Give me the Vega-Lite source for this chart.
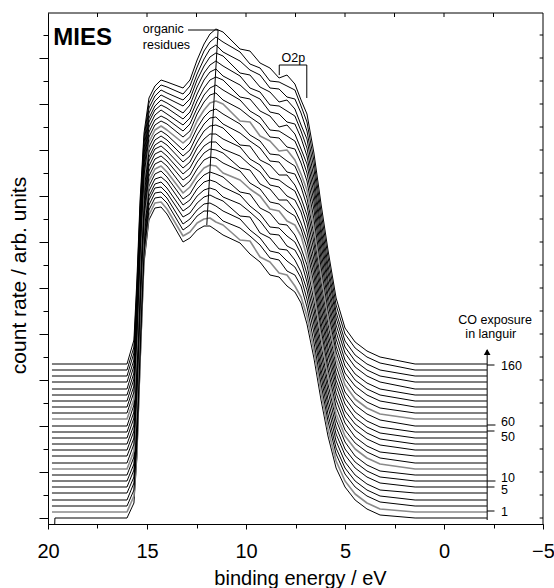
{
"$schema": "https://vega.github.io/schema/vega-lite/v6.json",
"width": 495, "height": 511,
"autosize": {"type": "none"},
"padding": {"left": 48, "top": 13, "right": 11, "bottom": 64},
"background": "white",
"config": {"view": {"stroke": null}, "font": "Liberation Sans",
 "axis": {"grid": false, "domainColor": "black", "tickColor": "black", "labelColor": "black", "titleColor": "black", "labelFont": "Liberation Sans", "titleFont": "Liberation Sans", "titleFontWeight": "normal", "domainWidth": 1, "tickWidth": 1, "labelFlush": false, "labelOverlap": false}},
"resolve": {"axis": {"x": "independent", "y": "independent"}},
"layer": [
{
"data": {"values": [
{"c":0,"e":19.66,"v":-6},{"c":0,"e":19.65,"v":0},{"c":0,"e":16.01,"v":0},{"c":0,"e":15.66,"v":15},{"c":0,"e":15.51,"v":60},{"c":0,"e":15.35,"v":150},{"c":0,"e":15.15,"v":255},{"c":0,"e":14.9,"v":298},{"c":0,"e":14.6,"v":310},{"c":0,"e":14.29,"v":311},{"c":0,"e":13.99,"v":304},{"c":0,"e":13.18,"v":276},{"c":0,"e":12.83,"v":280},{"c":0,"e":12.47,"v":288},{"c":0,"e":12.12,"v":292},{"c":0,"e":11.82,"v":292},{"c":0,"e":11.52,"v":288},{"c":0,"e":11.16,"v":283},{"c":0,"e":10.3,"v":275},{"c":0,"e":9.8,"v":264},{"c":0,"e":9.29,"v":256},{"c":0,"e":8.79,"v":243},{"c":0,"e":8.33,"v":241},{"c":0,"e":7.93,"v":232},{"c":0,"e":7.53,"v":226},{"c":0,"e":7.22,"v":215},{"c":0,"e":6.92,"v":194},{"c":0,"e":6.57,"v":160},{"c":0,"e":6.21,"v":118},{"c":0,"e":5.86,"v":82},{"c":0,"e":5.45,"v":50},{"c":0,"e":5,"v":31},{"c":0,"e":4.49,"v":18},{"c":0,"e":3.89,"v":9},{"c":0,"e":3.23,"v":3},{"c":0,"e":1.46,"v":0},{"c":0,"e":-2.17,"v":0},
{"c":1,"e":19.8,"v":6},{"c":1,"e":16.01,"v":6},{"c":1,"e":15.66,"v":22},{"c":1,"e":15.51,"v":67},{"c":1,"e":15.35,"v":157},{"c":1,"e":15.15,"v":260},{"c":1,"e":14.9,"v":303},{"c":1,"e":14.6,"v":315},{"c":1,"e":14.29,"v":316},{"c":1,"e":13.99,"v":309},{"c":1,"e":13.18,"v":282},{"c":1,"e":12.83,"v":286},{"c":1,"e":12.47,"v":295},{"c":1,"e":12.12,"v":299},{"c":1,"e":11.82,"v":300},{"c":1,"e":11.52,"v":296},{"c":1,"e":11.16,"v":293},{"c":1,"e":10.3,"v":278},{"c":1,"e":9.8,"v":277},{"c":1,"e":9.29,"v":261},{"c":1,"e":8.79,"v":256},{"c":1,"e":8.33,"v":245},{"c":1,"e":7.93,"v":243},{"c":1,"e":7.53,"v":232},{"c":1,"e":7.22,"v":221},{"c":1,"e":6.92,"v":202},{"c":1,"e":6.57,"v":168},{"c":1,"e":6.21,"v":126},{"c":1,"e":5.86,"v":89},{"c":1,"e":5.45,"v":57},{"c":1,"e":5,"v":37},{"c":1,"e":4.49,"v":24},{"c":1,"e":3.89,"v":15},{"c":1,"e":3.23,"v":9},{"c":1,"e":1.46,"v":6},{"c":1,"e":-2.17,"v":6},
{"c":2,"e":19.8,"v":12},{"c":2,"e":16.01,"v":12},{"c":2,"e":15.66,"v":28},{"c":2,"e":15.51,"v":74},{"c":2,"e":15.35,"v":163},{"c":2,"e":15.15,"v":265},{"c":2,"e":14.9,"v":308},{"c":2,"e":14.6,"v":320},{"c":2,"e":14.29,"v":321},{"c":2,"e":13.99,"v":315},{"c":2,"e":13.18,"v":288},{"c":2,"e":12.83,"v":293},{"c":2,"e":12.47,"v":302},{"c":2,"e":12.12,"v":307},{"c":2,"e":11.82,"v":307},{"c":2,"e":11.52,"v":304},{"c":2,"e":11.16,"v":297},{"c":2,"e":10.3,"v":290},{"c":2,"e":9.8,"v":282},{"c":2,"e":9.29,"v":273},{"c":2,"e":8.79,"v":260},{"c":2,"e":8.33,"v":258},{"c":2,"e":7.93,"v":247},{"c":2,"e":7.53,"v":243},{"c":2,"e":7.22,"v":232},{"c":2,"e":6.92,"v":211},{"c":2,"e":6.57,"v":176},{"c":2,"e":6.21,"v":134},{"c":2,"e":5.86,"v":97},{"c":2,"e":5.45,"v":64},{"c":2,"e":5,"v":44},{"c":2,"e":4.49,"v":31},{"c":2,"e":3.89,"v":22},{"c":2,"e":3.23,"v":16},{"c":2,"e":1.46,"v":12},{"c":2,"e":-2.17,"v":12},
{"c":3,"e":19.8,"v":18},{"c":3,"e":16.01,"v":18},{"c":3,"e":15.66,"v":35},{"c":3,"e":15.51,"v":81},{"c":3,"e":15.35,"v":170},{"c":3,"e":15.15,"v":271},{"c":3,"e":14.9,"v":313},{"c":3,"e":14.6,"v":325},{"c":3,"e":14.29,"v":326},{"c":3,"e":13.99,"v":320},{"c":3,"e":13.18,"v":294},{"c":3,"e":12.83,"v":299},{"c":3,"e":12.47,"v":308},{"c":3,"e":12.12,"v":314},{"c":3,"e":11.82,"v":315},{"c":3,"e":11.52,"v":312},{"c":3,"e":11.16,"v":307},{"c":3,"e":10.3,"v":299},{"c":3,"e":9.8,"v":288},{"c":3,"e":9.29,"v":280},{"c":3,"e":8.79,"v":267},{"c":3,"e":8.33,"v":265},{"c":3,"e":7.93,"v":257},{"c":3,"e":7.53,"v":251},{"c":3,"e":7.22,"v":240},{"c":3,"e":6.92,"v":219},{"c":3,"e":6.57,"v":185},{"c":3,"e":6.21,"v":142},{"c":3,"e":5.86,"v":104},{"c":3,"e":5.45,"v":70},{"c":3,"e":5,"v":50},{"c":3,"e":4.49,"v":37},{"c":3,"e":3.89,"v":28},{"c":3,"e":3.23,"v":22},{"c":3,"e":1.46,"v":18},{"c":3,"e":-2.17,"v":18},
{"c":4,"e":19.8,"v":25},{"c":4,"e":16.01,"v":25},{"c":4,"e":15.66,"v":41},{"c":4,"e":15.51,"v":88},{"c":4,"e":15.35,"v":177},{"c":4,"e":15.15,"v":276},{"c":4,"e":14.9,"v":318},{"c":4,"e":14.6,"v":330},{"c":4,"e":14.29,"v":331},{"c":4,"e":13.99,"v":325},{"c":4,"e":13.18,"v":301},{"c":4,"e":12.83,"v":305},{"c":4,"e":12.47,"v":315},{"c":4,"e":12.12,"v":321},{"c":4,"e":11.82,"v":323},{"c":4,"e":11.52,"v":320},{"c":4,"e":11.16,"v":317},{"c":4,"e":10.3,"v":302},{"c":4,"e":9.8,"v":301},{"c":4,"e":9.29,"v":285},{"c":4,"e":8.79,"v":280},{"c":4,"e":8.33,"v":269},{"c":4,"e":7.93,"v":268},{"c":4,"e":7.53,"v":258},{"c":4,"e":7.22,"v":246},{"c":4,"e":6.92,"v":228},{"c":4,"e":6.57,"v":193},{"c":4,"e":6.21,"v":149},{"c":4,"e":5.86,"v":112},{"c":4,"e":5.45,"v":77},{"c":4,"e":5,"v":56},{"c":4,"e":4.49,"v":43},{"c":4,"e":3.89,"v":34},{"c":4,"e":3.23,"v":28},{"c":4,"e":1.46,"v":25},{"c":4,"e":-2.17,"v":25},
{"c":5,"e":19.8,"v":31},{"c":5,"e":16.01,"v":31},{"c":5,"e":15.66,"v":48},{"c":5,"e":15.51,"v":96},{"c":5,"e":15.35,"v":184},{"c":5,"e":15.15,"v":281},{"c":5,"e":14.9,"v":322},{"c":5,"e":14.6,"v":334},{"c":5,"e":14.29,"v":336},{"c":5,"e":13.99,"v":330},{"c":5,"e":13.18,"v":307},{"c":5,"e":12.83,"v":312},{"c":5,"e":12.47,"v":322},{"c":5,"e":12.12,"v":328},{"c":5,"e":11.82,"v":330},{"c":5,"e":11.52,"v":328},{"c":5,"e":11.16,"v":321},{"c":5,"e":10.3,"v":314},{"c":5,"e":9.8,"v":306},{"c":5,"e":9.29,"v":297},{"c":5,"e":8.79,"v":284},{"c":5,"e":8.33,"v":283},{"c":5,"e":7.93,"v":272},{"c":5,"e":7.53,"v":268},{"c":5,"e":7.22,"v":257},{"c":5,"e":6.92,"v":236},{"c":5,"e":6.57,"v":201},{"c":5,"e":6.21,"v":157},{"c":5,"e":5.86,"v":119},{"c":5,"e":5.45,"v":84},{"c":5,"e":5,"v":63},{"c":5,"e":4.49,"v":50},{"c":5,"e":3.89,"v":41},{"c":5,"e":3.23,"v":35},{"c":5,"e":1.46,"v":31},{"c":5,"e":-2.17,"v":31},
{"c":10,"e":19.8,"v":37},{"c":10,"e":16.01,"v":37},{"c":10,"e":15.66,"v":54},{"c":10,"e":15.51,"v":103},{"c":10,"e":15.35,"v":190},{"c":10,"e":15.15,"v":286},{"c":10,"e":14.9,"v":327},{"c":10,"e":14.6,"v":339},{"c":10,"e":14.29,"v":341},{"c":10,"e":13.99,"v":336},{"c":10,"e":13.18,"v":313},{"c":10,"e":12.83,"v":318},{"c":10,"e":12.47,"v":329},{"c":10,"e":12.12,"v":336},{"c":10,"e":11.82,"v":338},{"c":10,"e":11.52,"v":336},{"c":10,"e":11.16,"v":331},{"c":10,"e":10.3,"v":323},{"c":10,"e":9.8,"v":312},{"c":10,"e":9.29,"v":304},{"c":10,"e":8.79,"v":291},{"c":10,"e":8.33,"v":290},{"c":10,"e":7.93,"v":282},{"c":10,"e":7.53,"v":276},{"c":10,"e":7.22,"v":264},{"c":10,"e":6.92,"v":244},{"c":10,"e":6.57,"v":209},{"c":10,"e":6.21,"v":165},{"c":10,"e":5.86,"v":127},{"c":10,"e":5.45,"v":91},{"c":10,"e":5,"v":69},{"c":10,"e":4.49,"v":56},{"c":10,"e":3.89,"v":47},{"c":10,"e":3.23,"v":41},{"c":10,"e":1.46,"v":37},{"c":10,"e":-2.17,"v":37},
{"c":15,"e":19.8,"v":43},{"c":15,"e":16.01,"v":43},{"c":15,"e":15.66,"v":61},{"c":15,"e":15.51,"v":110},{"c":15,"e":15.35,"v":197},{"c":15,"e":15.15,"v":291},{"c":15,"e":14.9,"v":332},{"c":15,"e":14.6,"v":344},{"c":15,"e":14.29,"v":347},{"c":15,"e":13.99,"v":341},{"c":15,"e":13.18,"v":319},{"c":15,"e":12.83,"v":324},{"c":15,"e":12.47,"v":336},{"c":15,"e":12.12,"v":343},{"c":15,"e":11.82,"v":346},{"c":15,"e":11.52,"v":344},{"c":15,"e":11.16,"v":341},{"c":15,"e":10.3,"v":326},{"c":15,"e":9.8,"v":324},{"c":15,"e":9.29,"v":310},{"c":15,"e":8.79,"v":305},{"c":15,"e":8.33,"v":294},{"c":15,"e":7.93,"v":293},{"c":15,"e":7.53,"v":283},{"c":15,"e":7.22,"v":270},{"c":15,"e":6.92,"v":253},{"c":15,"e":6.57,"v":217},{"c":15,"e":6.21,"v":173},{"c":15,"e":5.86,"v":134},{"c":15,"e":5.45,"v":98},{"c":15,"e":5,"v":76},{"c":15,"e":4.49,"v":62},{"c":15,"e":3.89,"v":53},{"c":15,"e":3.23,"v":47},{"c":15,"e":1.46,"v":43},{"c":15,"e":-2.17,"v":43},
{"c":20,"e":19.8,"v":49},{"c":20,"e":16.01,"v":49},{"c":20,"e":15.66,"v":67},{"c":20,"e":15.51,"v":117},{"c":20,"e":15.35,"v":204},{"c":20,"e":15.15,"v":297},{"c":20,"e":14.9,"v":337},{"c":20,"e":14.6,"v":349},{"c":20,"e":14.29,"v":352},{"c":20,"e":13.99,"v":346},{"c":20,"e":13.18,"v":325},{"c":20,"e":12.83,"v":331},{"c":20,"e":12.47,"v":342},{"c":20,"e":12.12,"v":350},{"c":20,"e":11.82,"v":353},{"c":20,"e":11.52,"v":352},{"c":20,"e":11.16,"v":345},{"c":20,"e":10.3,"v":338},{"c":20,"e":9.8,"v":329},{"c":20,"e":9.29,"v":322},{"c":20,"e":8.79,"v":309},{"c":20,"e":8.33,"v":307},{"c":20,"e":7.93,"v":297},{"c":20,"e":7.53,"v":293},{"c":20,"e":7.22,"v":282},{"c":20,"e":6.92,"v":261},{"c":20,"e":6.57,"v":226},{"c":20,"e":6.21,"v":181},{"c":20,"e":5.86,"v":142},{"c":20,"e":5.45,"v":104},{"c":20,"e":5,"v":82},{"c":20,"e":4.49,"v":69},{"c":20,"e":3.89,"v":60},{"c":20,"e":3.23,"v":54},{"c":20,"e":1.46,"v":49},{"c":20,"e":-2.17,"v":49},
{"c":25,"e":19.8,"v":55},{"c":25,"e":16.01,"v":55},{"c":25,"e":15.66,"v":74},{"c":25,"e":15.51,"v":124},{"c":25,"e":15.35,"v":210},{"c":25,"e":15.15,"v":302},{"c":25,"e":14.9,"v":342},{"c":25,"e":14.6,"v":354},{"c":25,"e":14.29,"v":357},{"c":25,"e":13.99,"v":352},{"c":25,"e":13.18,"v":331},{"c":25,"e":12.83,"v":337},{"c":25,"e":12.47,"v":349},{"c":25,"e":12.12,"v":358},{"c":25,"e":11.82,"v":361},{"c":25,"e":11.52,"v":360},{"c":25,"e":11.16,"v":355},{"c":25,"e":10.3,"v":347},{"c":25,"e":9.8,"v":335},{"c":25,"e":9.29,"v":329},{"c":25,"e":8.79,"v":316},{"c":25,"e":8.33,"v":314},{"c":25,"e":7.93,"v":307},{"c":25,"e":7.53,"v":302},{"c":25,"e":7.22,"v":289},{"c":25,"e":6.92,"v":270},{"c":25,"e":6.57,"v":234},{"c":25,"e":6.21,"v":189},{"c":25,"e":5.86,"v":149},{"c":25,"e":5.45,"v":111},{"c":25,"e":5,"v":88},{"c":25,"e":4.49,"v":75},{"c":25,"e":3.89,"v":66},{"c":25,"e":3.23,"v":60},{"c":25,"e":1.46,"v":55},{"c":25,"e":-2.17,"v":55},
{"c":30,"e":19.8,"v":62},{"c":30,"e":16.01,"v":62},{"c":30,"e":15.66,"v":80},{"c":30,"e":15.51,"v":131},{"c":30,"e":15.35,"v":217},{"c":30,"e":15.15,"v":307},{"c":30,"e":14.9,"v":347},{"c":30,"e":14.6,"v":359},{"c":30,"e":14.29,"v":362},{"c":30,"e":13.99,"v":357},{"c":30,"e":13.18,"v":338},{"c":30,"e":12.83,"v":343},{"c":30,"e":12.47,"v":356},{"c":30,"e":12.12,"v":365},{"c":30,"e":11.82,"v":369},{"c":30,"e":11.52,"v":368},{"c":30,"e":11.16,"v":365},{"c":30,"e":10.3,"v":350},{"c":30,"e":9.8,"v":348},{"c":30,"e":9.29,"v":334},{"c":30,"e":8.79,"v":329},{"c":30,"e":8.33,"v":318},{"c":30,"e":7.93,"v":318},{"c":30,"e":7.53,"v":308},{"c":30,"e":7.22,"v":295},{"c":30,"e":6.92,"v":278},{"c":30,"e":6.57,"v":242},{"c":30,"e":6.21,"v":196},{"c":30,"e":5.86,"v":156},{"c":30,"e":5.45,"v":118},{"c":30,"e":5,"v":95},{"c":30,"e":4.49,"v":81},{"c":30,"e":3.89,"v":72},{"c":30,"e":3.23,"v":66},{"c":30,"e":1.46,"v":62},{"c":30,"e":-2.17,"v":62},
{"c":35,"e":19.8,"v":68},{"c":35,"e":16.01,"v":68},{"c":35,"e":15.66,"v":87},{"c":35,"e":15.51,"v":138},{"c":35,"e":15.35,"v":224},{"c":35,"e":15.15,"v":312},{"c":35,"e":14.9,"v":352},{"c":35,"e":14.6,"v":364},{"c":35,"e":14.29,"v":367},{"c":35,"e":13.99,"v":362},{"c":35,"e":13.18,"v":344},{"c":35,"e":12.83,"v":350},{"c":35,"e":12.47,"v":363},{"c":35,"e":12.12,"v":372},{"c":35,"e":11.82,"v":376},{"c":35,"e":11.52,"v":376},{"c":35,"e":11.16,"v":369},{"c":35,"e":10.3,"v":362},{"c":35,"e":9.8,"v":353},{"c":35,"e":9.29,"v":346},{"c":35,"e":8.79,"v":333},{"c":35,"e":8.33,"v":331},{"c":35,"e":7.93,"v":322},{"c":35,"e":7.53,"v":318},{"c":35,"e":7.22,"v":306},{"c":35,"e":6.92,"v":286},{"c":35,"e":6.57,"v":250},{"c":35,"e":6.21,"v":204},{"c":35,"e":5.86,"v":164},{"c":35,"e":5.45,"v":125},{"c":35,"e":5,"v":101},{"c":35,"e":4.49,"v":88},{"c":35,"e":3.89,"v":79},{"c":35,"e":3.23,"v":73},{"c":35,"e":1.46,"v":68},{"c":35,"e":-2.17,"v":68},
{"c":40,"e":19.8,"v":74},{"c":40,"e":16.01,"v":74},{"c":40,"e":15.66,"v":93},{"c":40,"e":15.51,"v":145},{"c":40,"e":15.35,"v":231},{"c":40,"e":15.15,"v":317},{"c":40,"e":14.9,"v":357},{"c":40,"e":14.6,"v":369},{"c":40,"e":14.29,"v":372},{"c":40,"e":13.99,"v":367},{"c":40,"e":13.18,"v":350},{"c":40,"e":12.83,"v":356},{"c":40,"e":12.47,"v":370},{"c":40,"e":12.12,"v":379},{"c":40,"e":11.82,"v":384},{"c":40,"e":11.52,"v":384},{"c":40,"e":11.16,"v":379},{"c":40,"e":10.3,"v":371},{"c":40,"e":9.8,"v":359},{"c":40,"e":9.29,"v":353},{"c":40,"e":8.79,"v":340},{"c":40,"e":8.33,"v":338},{"c":40,"e":7.93,"v":332},{"c":40,"e":7.53,"v":327},{"c":40,"e":7.22,"v":313},{"c":40,"e":6.92,"v":295},{"c":40,"e":6.57,"v":258},{"c":40,"e":6.21,"v":212},{"c":40,"e":5.86,"v":171},{"c":40,"e":5.45,"v":132},{"c":40,"e":5,"v":107},{"c":40,"e":4.49,"v":94},{"c":40,"e":3.89,"v":85},{"c":40,"e":3.23,"v":79},{"c":40,"e":1.46,"v":74},{"c":40,"e":-2.17,"v":74},
{"c":45,"e":19.8,"v":80},{"c":45,"e":16.01,"v":80},{"c":45,"e":15.66,"v":100},{"c":45,"e":15.51,"v":153},{"c":45,"e":15.35,"v":237},{"c":45,"e":15.15,"v":323},{"c":45,"e":14.9,"v":361},{"c":45,"e":14.6,"v":373},{"c":45,"e":14.29,"v":377},{"c":45,"e":13.99,"v":373},{"c":45,"e":13.18,"v":356},{"c":45,"e":12.83,"v":362},{"c":45,"e":12.47,"v":376},{"c":45,"e":12.12,"v":387},{"c":45,"e":11.82,"v":392},{"c":45,"e":11.52,"v":393},{"c":45,"e":11.16,"v":390},{"c":45,"e":10.3,"v":373},{"c":45,"e":9.8,"v":372},{"c":45,"e":9.29,"v":358},{"c":45,"e":8.79,"v":353},{"c":45,"e":8.33,"v":343},{"c":45,"e":7.93,"v":343},{"c":45,"e":7.53,"v":333},{"c":45,"e":7.22,"v":320},{"c":45,"e":6.92,"v":303},{"c":45,"e":6.57,"v":267},{"c":45,"e":6.21,"v":220},{"c":45,"e":5.86,"v":179},{"c":45,"e":5.45,"v":138},{"c":45,"e":5,"v":114},{"c":45,"e":4.49,"v":100},{"c":45,"e":3.89,"v":91},{"c":45,"e":3.23,"v":85},{"c":45,"e":1.46,"v":80},{"c":45,"e":-2.17,"v":80},
{"c":50,"e":19.8,"v":86},{"c":50,"e":16.01,"v":86},{"c":50,"e":15.66,"v":106},{"c":50,"e":15.51,"v":160},{"c":50,"e":15.35,"v":244},{"c":50,"e":15.15,"v":328},{"c":50,"e":14.9,"v":366},{"c":50,"e":14.6,"v":378},{"c":50,"e":14.29,"v":382},{"c":50,"e":13.99,"v":378},{"c":50,"e":13.18,"v":362},{"c":50,"e":12.83,"v":368},{"c":50,"e":12.47,"v":383},{"c":50,"e":12.12,"v":394},{"c":50,"e":11.82,"v":400},{"c":50,"e":11.52,"v":401},{"c":50,"e":11.16,"v":394},{"c":50,"e":10.3,"v":385},{"c":50,"e":9.8,"v":377},{"c":50,"e":9.29,"v":370},{"c":50,"e":8.79,"v":357},{"c":50,"e":8.33,"v":356},{"c":50,"e":7.93,"v":346},{"c":50,"e":7.53,"v":344},{"c":50,"e":7.22,"v":331},{"c":50,"e":6.92,"v":312},{"c":50,"e":6.57,"v":275},{"c":50,"e":6.21,"v":228},{"c":50,"e":5.86,"v":186},{"c":50,"e":5.45,"v":145},{"c":50,"e":5,"v":120},{"c":50,"e":4.49,"v":106},{"c":50,"e":3.89,"v":97},{"c":50,"e":3.23,"v":91},{"c":50,"e":1.46,"v":86},{"c":50,"e":-2.17,"v":86},
{"c":60,"e":19.8,"v":92},{"c":60,"e":16.01,"v":92},{"c":60,"e":15.66,"v":113},{"c":60,"e":15.51,"v":167},{"c":60,"e":15.35,"v":251},{"c":60,"e":15.15,"v":333},{"c":60,"e":14.9,"v":371},{"c":60,"e":14.6,"v":383},{"c":60,"e":14.29,"v":387},{"c":60,"e":13.99,"v":383},{"c":60,"e":13.18,"v":368},{"c":60,"e":12.83,"v":375},{"c":60,"e":12.47,"v":390},{"c":60,"e":12.12,"v":401},{"c":60,"e":11.82,"v":407},{"c":60,"e":11.52,"v":409},{"c":60,"e":11.16,"v":404},{"c":60,"e":10.3,"v":394},{"c":60,"e":9.8,"v":383},{"c":60,"e":9.29,"v":377},{"c":60,"e":8.79,"v":364},{"c":60,"e":8.33,"v":363},{"c":60,"e":7.93,"v":357},{"c":60,"e":7.53,"v":352},{"c":60,"e":7.22,"v":338},{"c":60,"e":6.92,"v":320},{"c":60,"e":6.57,"v":283},{"c":60,"e":6.21,"v":236},{"c":60,"e":5.86,"v":194},{"c":60,"e":5.45,"v":152},{"c":60,"e":5,"v":126},{"c":60,"e":4.49,"v":113},{"c":60,"e":3.89,"v":104},{"c":60,"e":3.23,"v":98},{"c":60,"e":1.46,"v":92},{"c":60,"e":-2.17,"v":92},
{"c":70,"e":19.8,"v":99},{"c":70,"e":16.01,"v":99},{"c":70,"e":15.66,"v":119},{"c":70,"e":15.51,"v":174},{"c":70,"e":15.35,"v":258},{"c":70,"e":15.15,"v":338},{"c":70,"e":14.9,"v":376},{"c":70,"e":14.6,"v":388},{"c":70,"e":14.29,"v":392},{"c":70,"e":13.99,"v":388},{"c":70,"e":13.18,"v":375},{"c":70,"e":12.83,"v":381},{"c":70,"e":12.47,"v":397},{"c":70,"e":12.12,"v":408},{"c":70,"e":11.82,"v":415},{"c":70,"e":11.52,"v":417},{"c":70,"e":11.16,"v":414},{"c":70,"e":10.3,"v":397},{"c":70,"e":9.8,"v":396},{"c":70,"e":9.29,"v":382},{"c":70,"e":8.79,"v":377},{"c":70,"e":8.33,"v":367},{"c":70,"e":7.93,"v":368},{"c":70,"e":7.53,"v":358},{"c":70,"e":7.22,"v":344},{"c":70,"e":6.92,"v":328},{"c":70,"e":6.57,"v":291},{"c":70,"e":6.21,"v":243},{"c":70,"e":5.86,"v":201},{"c":70,"e":5.45,"v":159},{"c":70,"e":5,"v":133},{"c":70,"e":4.49,"v":119},{"c":70,"e":3.89,"v":110},{"c":70,"e":3.23,"v":104},{"c":70,"e":1.46,"v":99},{"c":70,"e":-2.17,"v":99},
{"c":80,"e":19.8,"v":105},{"c":80,"e":16.01,"v":105},{"c":80,"e":15.66,"v":126},{"c":80,"e":15.51,"v":181},{"c":80,"e":15.35,"v":264},{"c":80,"e":15.15,"v":343},{"c":80,"e":14.9,"v":381},{"c":80,"e":14.6,"v":393},{"c":80,"e":14.29,"v":397},{"c":80,"e":13.99,"v":394},{"c":80,"e":13.18,"v":381},{"c":80,"e":12.83,"v":387},{"c":80,"e":12.47,"v":404},{"c":80,"e":12.12,"v":416},{"c":80,"e":11.82,"v":423},{"c":80,"e":11.52,"v":425},{"c":80,"e":11.16,"v":418},{"c":80,"e":10.3,"v":409},{"c":80,"e":9.8,"v":401},{"c":80,"e":9.29,"v":394},{"c":80,"e":8.79,"v":381},{"c":80,"e":8.33,"v":380},{"c":80,"e":7.93,"v":371},{"c":80,"e":7.53,"v":369},{"c":80,"e":7.22,"v":355},{"c":80,"e":6.92,"v":337},{"c":80,"e":6.57,"v":299},{"c":80,"e":6.21,"v":251},{"c":80,"e":5.86,"v":208},{"c":80,"e":5.45,"v":166},{"c":80,"e":5,"v":139},{"c":80,"e":4.49,"v":125},{"c":80,"e":3.89,"v":116},{"c":80,"e":3.23,"v":110},{"c":80,"e":1.46,"v":105},{"c":80,"e":-2.17,"v":105},
{"c":90,"e":19.8,"v":111},{"c":90,"e":16.01,"v":111},{"c":90,"e":15.66,"v":132},{"c":90,"e":15.51,"v":188},{"c":90,"e":15.35,"v":271},{"c":90,"e":15.15,"v":349},{"c":90,"e":14.9,"v":386},{"c":90,"e":14.6,"v":398},{"c":90,"e":14.29,"v":402},{"c":90,"e":13.99,"v":399},{"c":90,"e":13.18,"v":387},{"c":90,"e":12.83,"v":394},{"c":90,"e":12.47,"v":410},{"c":90,"e":12.12,"v":423},{"c":90,"e":11.82,"v":430},{"c":90,"e":11.52,"v":433},{"c":90,"e":11.16,"v":428},{"c":90,"e":10.3,"v":418},{"c":90,"e":9.8,"v":407},{"c":90,"e":9.29,"v":401},{"c":90,"e":8.79,"v":388},{"c":90,"e":8.33,"v":387},{"c":90,"e":7.93,"v":382},{"c":90,"e":7.53,"v":377},{"c":90,"e":7.22,"v":363},{"c":90,"e":6.92,"v":345},{"c":90,"e":6.57,"v":308},{"c":90,"e":6.21,"v":259},{"c":90,"e":5.86,"v":216},{"c":90,"e":5.45,"v":172},{"c":90,"e":5,"v":145},{"c":90,"e":4.49,"v":132},{"c":90,"e":3.89,"v":123},{"c":90,"e":3.23,"v":117},{"c":90,"e":1.46,"v":111},{"c":90,"e":-2.17,"v":111},
{"c":100,"e":19.8,"v":117},{"c":100,"e":16.01,"v":117},{"c":100,"e":15.66,"v":139},{"c":100,"e":15.51,"v":195},{"c":100,"e":15.35,"v":278},{"c":100,"e":15.15,"v":354},{"c":100,"e":14.9,"v":391},{"c":100,"e":14.6,"v":403},{"c":100,"e":14.29,"v":408},{"c":100,"e":13.99,"v":404},{"c":100,"e":13.18,"v":393},{"c":100,"e":12.83,"v":400},{"c":100,"e":12.47,"v":417},{"c":100,"e":12.12,"v":430},{"c":100,"e":11.82,"v":438},{"c":100,"e":11.52,"v":441},{"c":100,"e":11.16,"v":438},{"c":100,"e":10.3,"v":421},{"c":100,"e":9.8,"v":419},{"c":100,"e":9.29,"v":407},{"c":100,"e":8.79,"v":402},{"c":100,"e":8.33,"v":391},{"c":100,"e":7.93,"v":393},{"c":100,"e":7.53,"v":384},{"c":100,"e":7.22,"v":369},{"c":100,"e":6.92,"v":354},{"c":100,"e":6.57,"v":316},{"c":100,"e":6.21,"v":267},{"c":100,"e":5.86,"v":223},{"c":100,"e":5.45,"v":179},{"c":100,"e":5,"v":152},{"c":100,"e":4.49,"v":138},{"c":100,"e":3.89,"v":129},{"c":100,"e":3.23,"v":123},{"c":100,"e":1.46,"v":117},{"c":100,"e":-2.17,"v":117},
{"c":110,"e":19.8,"v":123},{"c":110,"e":16.01,"v":123},{"c":110,"e":15.66,"v":145},{"c":110,"e":15.51,"v":202},{"c":110,"e":15.35,"v":284},{"c":110,"e":15.15,"v":359},{"c":110,"e":14.9,"v":396},{"c":110,"e":14.6,"v":408},{"c":110,"e":14.29,"v":413},{"c":110,"e":13.99,"v":410},{"c":110,"e":13.18,"v":399},{"c":110,"e":12.83,"v":406},{"c":110,"e":12.47,"v":424},{"c":110,"e":12.12,"v":438},{"c":110,"e":11.82,"v":446},{"c":110,"e":11.52,"v":449},{"c":110,"e":11.16,"v":442},{"c":110,"e":10.3,"v":433},{"c":110,"e":9.8,"v":424},{"c":110,"e":9.29,"v":419},{"c":110,"e":8.79,"v":406},{"c":110,"e":8.33,"v":404},{"c":110,"e":7.93,"v":396},{"c":110,"e":7.53,"v":394},{"c":110,"e":7.22,"v":380},{"c":110,"e":6.92,"v":362},{"c":110,"e":6.57,"v":324},{"c":110,"e":6.21,"v":275},{"c":110,"e":5.86,"v":231},{"c":110,"e":5.45,"v":186},{"c":110,"e":5,"v":158},{"c":110,"e":4.49,"v":144},{"c":110,"e":3.89,"v":135},{"c":110,"e":3.23,"v":129},{"c":110,"e":1.46,"v":123},{"c":110,"e":-2.17,"v":123},
{"c":120,"e":19.8,"v":129},{"c":120,"e":16.01,"v":129},{"c":120,"e":15.66,"v":152},{"c":120,"e":15.51,"v":210},{"c":120,"e":15.35,"v":291},{"c":120,"e":15.15,"v":364},{"c":120,"e":14.9,"v":400},{"c":120,"e":14.6,"v":412},{"c":120,"e":14.29,"v":418},{"c":120,"e":13.99,"v":415},{"c":120,"e":13.18,"v":405},{"c":120,"e":12.83,"v":413},{"c":120,"e":12.47,"v":431},{"c":120,"e":12.12,"v":445},{"c":120,"e":11.82,"v":453},{"c":120,"e":11.52,"v":457},{"c":120,"e":11.16,"v":452},{"c":120,"e":10.3,"v":442},{"c":120,"e":9.8,"v":430},{"c":120,"e":9.29,"v":426},{"c":120,"e":8.79,"v":413},{"c":120,"e":8.33,"v":412},{"c":120,"e":7.93,"v":407},{"c":120,"e":7.53,"v":402},{"c":120,"e":7.22,"v":387},{"c":120,"e":6.92,"v":370},{"c":120,"e":6.57,"v":332},{"c":120,"e":6.21,"v":283},{"c":120,"e":5.86,"v":238},{"c":120,"e":5.45,"v":193},{"c":120,"e":5,"v":165},{"c":120,"e":4.49,"v":151},{"c":120,"e":3.89,"v":142},{"c":120,"e":3.23,"v":136},{"c":120,"e":1.46,"v":129},{"c":120,"e":-2.17,"v":129},
{"c":130,"e":19.8,"v":136},{"c":130,"e":16.01,"v":136},{"c":130,"e":15.66,"v":158},{"c":130,"e":15.51,"v":217},{"c":130,"e":15.35,"v":298},{"c":130,"e":15.15,"v":369},{"c":130,"e":14.9,"v":405},{"c":130,"e":14.6,"v":417},{"c":130,"e":14.29,"v":423},{"c":130,"e":13.99,"v":420},{"c":130,"e":13.18,"v":412},{"c":130,"e":12.83,"v":419},{"c":130,"e":12.47,"v":438},{"c":130,"e":12.12,"v":452},{"c":130,"e":11.82,"v":461},{"c":130,"e":11.52,"v":465},{"c":130,"e":11.16,"v":462},{"c":130,"e":10.3,"v":445},{"c":130,"e":9.8,"v":443},{"c":130,"e":9.29,"v":431},{"c":130,"e":8.79,"v":426},{"c":130,"e":8.33,"v":416},{"c":130,"e":7.93,"v":418},{"c":130,"e":7.53,"v":409},{"c":130,"e":7.22,"v":393},{"c":130,"e":6.92,"v":379},{"c":130,"e":6.57,"v":340},{"c":130,"e":6.21,"v":290},{"c":130,"e":5.86,"v":246},{"c":130,"e":5.45,"v":200},{"c":130,"e":5,"v":171},{"c":130,"e":4.49,"v":157},{"c":130,"e":3.89,"v":148},{"c":130,"e":3.23,"v":142},{"c":130,"e":1.46,"v":136},{"c":130,"e":-2.17,"v":136},
{"c":140,"e":19.8,"v":142},{"c":140,"e":16.01,"v":142},{"c":140,"e":15.66,"v":165},{"c":140,"e":15.51,"v":224},{"c":140,"e":15.35,"v":305},{"c":140,"e":15.15,"v":375},{"c":140,"e":14.9,"v":410},{"c":140,"e":14.6,"v":422},{"c":140,"e":14.29,"v":428},{"c":140,"e":13.99,"v":425},{"c":140,"e":13.18,"v":418},{"c":140,"e":12.83,"v":425},{"c":140,"e":12.47,"v":444},{"c":140,"e":12.12,"v":459},{"c":140,"e":11.82,"v":469},{"c":140,"e":11.52,"v":473},{"c":140,"e":11.16,"v":466},{"c":140,"e":10.3,"v":457},{"c":140,"e":9.8,"v":448},{"c":140,"e":9.29,"v":443},{"c":140,"e":8.79,"v":430},{"c":140,"e":8.33,"v":429},{"c":140,"e":7.93,"v":421},{"c":140,"e":7.53,"v":419},{"c":140,"e":7.22,"v":405},{"c":140,"e":6.92,"v":387},{"c":140,"e":6.57,"v":349},{"c":140,"e":6.21,"v":298},{"c":140,"e":5.86,"v":253},{"c":140,"e":5.45,"v":206},{"c":140,"e":5,"v":177},{"c":140,"e":4.49,"v":163},{"c":140,"e":3.89,"v":154},{"c":140,"e":3.23,"v":148},{"c":140,"e":1.46,"v":142},{"c":140,"e":-2.17,"v":142},
{"c":150,"e":19.8,"v":148},{"c":150,"e":16.01,"v":148},{"c":150,"e":15.66,"v":171},{"c":150,"e":15.51,"v":231},{"c":150,"e":15.35,"v":311},{"c":150,"e":15.15,"v":380},{"c":150,"e":14.9,"v":415},{"c":150,"e":14.6,"v":427},{"c":150,"e":14.29,"v":433},{"c":150,"e":13.99,"v":431},{"c":150,"e":13.18,"v":424},{"c":150,"e":12.83,"v":432},{"c":150,"e":12.47,"v":451},{"c":150,"e":12.12,"v":467},{"c":150,"e":11.82,"v":476},{"c":150,"e":11.52,"v":481},{"c":150,"e":11.16,"v":476},{"c":150,"e":10.3,"v":466},{"c":150,"e":9.8,"v":454},{"c":150,"e":9.29,"v":450},{"c":150,"e":8.79,"v":437},{"c":150,"e":8.33,"v":436},{"c":150,"e":7.93,"v":432},{"c":150,"e":7.53,"v":428},{"c":150,"e":7.22,"v":412},{"c":150,"e":6.92,"v":396},{"c":150,"e":6.57,"v":357},{"c":150,"e":6.21,"v":306},{"c":150,"e":5.86,"v":261},{"c":150,"e":5.45,"v":213},{"c":150,"e":5,"v":184},{"c":150,"e":4.49,"v":170},{"c":150,"e":3.89,"v":161},{"c":150,"e":3.23,"v":155},{"c":150,"e":1.46,"v":148},{"c":150,"e":-2.17,"v":148},
{"c":160,"e":19.8,"v":154},{"c":160,"e":16.01,"v":154},{"c":160,"e":15.66,"v":178},{"c":160,"e":15.51,"v":238},{"c":160,"e":15.35,"v":318},{"c":160,"e":15.15,"v":385},{"c":160,"e":14.9,"v":420},{"c":160,"e":14.6,"v":432},{"c":160,"e":14.29,"v":438},{"c":160,"e":13.99,"v":436},{"c":160,"e":13.18,"v":430},{"c":160,"e":12.83,"v":438},{"c":160,"e":12.47,"v":458},{"c":160,"e":12.12,"v":474},{"c":160,"e":11.82,"v":484},{"c":160,"e":11.52,"v":489},{"c":160,"e":11.16,"v":486},{"c":160,"e":10.3,"v":469},{"c":160,"e":9.8,"v":467},{"c":160,"e":9.29,"v":455},{"c":160,"e":8.79,"v":450},{"c":160,"e":8.33,"v":440},{"c":160,"e":7.93,"v":443},{"c":160,"e":7.53,"v":434},{"c":160,"e":7.22,"v":418},{"c":160,"e":6.92,"v":404},{"c":160,"e":6.57,"v":365},{"c":160,"e":6.21,"v":314},{"c":160,"e":5.86,"v":268},{"c":160,"e":5.45,"v":220},{"c":160,"e":5,"v":190},{"c":160,"e":4.49,"v":176},{"c":160,"e":3.89,"v":167},{"c":160,"e":3.23,"v":161},{"c":160,"e":1.46,"v":154},{"c":160,"e":-2.17,"v":154}
]},
"mark": {"type": "line", "strokeJoin": "round"},
"encoding": {
 "x": {"field": "e", "type": "quantitative", "scale": {"domain": [-5, 20], "reverse": true, "nice": false, "zero": false},
  "axis": {"orient": "bottom", "values": [20, 15, 10, 5, 0, -5], "tickSize": 5, "labelFontSize": 20, "labelPadding": 12, "title": "binding energy / eV", "titleFontSize": 20, "titlePadding": 7, "titleX": 252}},
 "y": {"field": "v", "type": "quantitative", "scale": {"domain": [-6, 505], "nice": false, "zero": false},
  "axis": {"orient": "left", "values": [0, 46, 92, 138, 184, 230, 276, 322, 368, 414, 460], "tickSize": 9, "labels": false, "title": "count rate / arb. units", "titleFontSize": 21, "titlePadding": 9, "titleY": 262}},
 "detail": {"field": "c", "type": "nominal"},
 "color": {"condition": {"test": "datum.c == 1 || datum.c == 20 || datum.c == 70", "value": "#8a8a8a"}, "value": "black"},
 "strokeWidth": {"condition": {"test": "datum.c == 1 || datum.c == 20 || datum.c == 70", "value": 1.6}, "value": 1}
}
},
{
"data": {"values": [{"e": 0, "v": 0}]},
"mark": {"type": "point", "opacity": 0},
"encoding": {
 "x": {"field": "e", "type": "quantitative", "scale": {"domain": [-5, 20], "reverse": true, "nice": false, "zero": false},
  "axis": {"orient": "bottom", "values": [17.5, 12.5, 7.5, 2.5, -2.5], "tickSize": 4, "labels": false, "title": null}},
 "y": {"field": "v", "type": "quantitative", "scale": {"domain": [-6, 505], "nice": false, "zero": false},
  "axis": {"orient": "left", "values": [23, 69, 115, 161, 207, 253, 299, 345, 391, 437, 483], "tickSize": 5, "labels": false, "title": null}}
}
},
{
"data": {"values": [{"e": 12.93, "v": 488, "o": 1}, {"e": 11.41, "v": 488, "o": 2}, {"e": 11.98, "v": 293, "o": 3}]},
"mark": {"type": "line", "color": "black", "strokeWidth": 1},
"encoding": {
 "x": {"field": "e", "type": "quantitative", "scale": {"domain": [-5, 20], "reverse": true, "nice": false, "zero": false}, "axis": null},
 "y": {"field": "v", "type": "quantitative", "scale": {"domain": [-6, 505], "nice": false, "zero": false}, "axis": null},
 "order": {"field": "o", "type": "quantitative"}
}
},
{
"data": {"values": [{"e": 8.32, "v": 443, "o": 1}, {"e": 8.32, "v": 453, "o": 2}, {"e": 6.93, "v": 453, "o": 3}, {"e": 6.93, "v": 420, "o": 4}]},
"mark": {"type": "line", "color": "black", "strokeWidth": 1},
"encoding": {
 "x": {"field": "e", "type": "quantitative", "scale": {"domain": [-5, 20], "reverse": true, "nice": false, "zero": false}, "axis": null},
 "y": {"field": "v", "type": "quantitative", "scale": {"domain": [-6, 505], "nice": false, "zero": false}, "axis": null},
 "order": {"field": "o", "type": "quantitative"}
}
},
{
"data": {"values": [{"e": -2.18, "v": -2, "v2": 168}]},
"mark": {"type": "rule", "color": "black", "strokeWidth": 1},
"encoding": {
 "x": {"field": "e", "type": "quantitative", "scale": {"domain": [-5, 20], "reverse": true, "nice": false, "zero": false}, "axis": null},
 "y": {"field": "v", "type": "quantitative", "scale": {"domain": [-6, 505], "nice": false, "zero": false}, "axis": null},
 "y2": {"field": "v2"}
}
},
{
"data": {"values": [{"e": -2.18, "v": 166}]},
"mark": {"type": "point", "shape": "triangle-up", "filled": true, "color": "black", "size": 45, "opacity": 1},
"encoding": {
 "x": {"field": "e", "type": "quantitative", "scale": {"domain": [-5, 20], "reverse": true, "nice": false, "zero": false}, "axis": null},
 "y": {"field": "v", "type": "quantitative", "scale": {"domain": [-6, 505], "nice": false, "zero": false}, "axis": null}
}
},
{
"data": {"values": [{"e": -2.18, "e2": -2.55, "v": 153}, {"e": -2.18, "e2": -2.6, "v": 93}, {"e": -2.18, "e2": -2.55, "v": 87}, {"e": -2.18, "e2": -2.6, "v": 37}, {"e": -2.18, "e2": -2.55, "v": 31}, {"e": -2.18, "e2": -2.55, "v": 7}]},
"mark": {"type": "rule", "color": "black", "strokeWidth": 1},
"encoding": {
 "x": {"field": "e", "type": "quantitative", "scale": {"domain": [-5, 20], "reverse": true, "nice": false, "zero": false}, "axis": null},
 "x2": {"field": "e2"},
 "y": {"field": "v", "type": "quantitative", "scale": {"domain": [-6, 505], "nice": false, "zero": false}, "axis": null}
}
},
{
"data": {"values": [{"e": -2.88, "v": 148, "t": "160"}, {"e": -2.88, "v": 92, "t": "60"}, {"e": -2.88, "v": 77.5, "t": "50"}, {"e": -2.88, "v": 36.5, "t": "10"}, {"e": -2.88, "v": 23.7, "t": "5"}, {"e": -2.88, "v": 2, "t": "1"}, {"e": 15.21, "v": 485, "t": "organic"}, {"e": 15.21, "v": 469, "t": "residues"}]},
"mark": {"type": "text", "align": "left", "baseline": "alphabetic", "fontSize": 12.5, "font": "Liberation Sans", "color": "black"},
"encoding": {
 "x": {"field": "e", "type": "quantitative", "scale": {"domain": [-5, 20], "reverse": true, "nice": false, "zero": false}, "axis": null},
 "y": {"field": "v", "type": "quantitative", "scale": {"domain": [-6, 505], "nice": false, "zero": false}, "axis": null},
 "text": {"field": "t"}
}
},
{
"data": {"values": [{"e": 7.61, "v": 456, "t": "O2p"}, {"e": -2.58, "v": 194, "t": "CO exposure"}, {"e": -2.36, "v": 180, "t": "in languir"}]},
"mark": {"type": "text", "align": "center", "baseline": "alphabetic", "fontSize": 12.5, "font": "Liberation Sans", "color": "black"},
"encoding": {
 "x": {"field": "e", "type": "quantitative", "scale": {"domain": [-5, 20], "reverse": true, "nice": false, "zero": false}, "axis": null},
 "y": {"field": "v", "type": "quantitative", "scale": {"domain": [-6, 505], "nice": false, "zero": false}, "axis": null},
 "text": {"field": "t"}
}
},
{
"data": {"values": [{"e": 19.73, "v": 473, "t": "MIES"}]},
"mark": {"type": "text", "align": "left", "baseline": "alphabetic", "fontSize": 24, "fontWeight": "bold", "font": "Liberation Sans", "color": "black"},
"encoding": {
 "x": {"field": "e", "type": "quantitative", "scale": {"domain": [-5, 20], "reverse": true, "nice": false, "zero": false}, "axis": null},
 "y": {"field": "v", "type": "quantitative", "scale": {"domain": [-6, 505], "nice": false, "zero": false}, "axis": null},
 "text": {"field": "t"}
}
},
{
"data": {"values": [
 {"e": 20, "e2": -5, "v": 505, "v2": 505}, {"e": -5, "e2": -5, "v": -6, "v2": 505},
 {"e": 17.5, "e2": 17.5, "v": 505, "v2": 501}, {"e": 15, "e2": 15, "v": 505, "v2": 501}, {"e": 12.5, "e2": 12.5, "v": 505, "v2": 501}, {"e": 10, "e2": 10, "v": 505, "v2": 501}, {"e": 7.5, "e2": 7.5, "v": 505, "v2": 501}, {"e": 5, "e2": 5, "v": 505, "v2": 501}, {"e": 2.5, "e2": 2.5, "v": 505, "v2": 501}, {"e": 0, "e2": 0, "v": 505, "v2": 501}, {"e": -2.5, "e2": -2.5, "v": 505, "v2": 501},
 {"e": -5, "e2": -4.83, "v": 0, "v2": 0}, {"e": -5, "e2": -4.83, "v": 23, "v2": 23}, {"e": -5, "e2": -4.83, "v": 46, "v2": 46}, {"e": -5, "e2": -4.83, "v": 69, "v2": 69}, {"e": -5, "e2": -4.83, "v": 92, "v2": 92}, {"e": -5, "e2": -4.83, "v": 115, "v2": 115}, {"e": -5, "e2": -4.83, "v": 138, "v2": 138}, {"e": -5, "e2": -4.83, "v": 161, "v2": 161}, {"e": -5, "e2": -4.83, "v": 184, "v2": 184}, {"e": -5, "e2": -4.83, "v": 207, "v2": 207}, {"e": -5, "e2": -4.83, "v": 230, "v2": 230}, {"e": -5, "e2": -4.83, "v": 253, "v2": 253}, {"e": -5, "e2": -4.83, "v": 276, "v2": 276}, {"e": -5, "e2": -4.83, "v": 299, "v2": 299}, {"e": -5, "e2": -4.83, "v": 322, "v2": 322}, {"e": -5, "e2": -4.83, "v": 345, "v2": 345}, {"e": -5, "e2": -4.83, "v": 368, "v2": 368}, {"e": -5, "e2": -4.83, "v": 391, "v2": 391}, {"e": -5, "e2": -4.83, "v": 414, "v2": 414}, {"e": -5, "e2": -4.83, "v": 437, "v2": 437}, {"e": -5, "e2": -4.83, "v": 460, "v2": 460}, {"e": -5, "e2": -4.83, "v": 483, "v2": 483}
]},
"mark": {"type": "rule", "color": "black", "strokeWidth": 1},
"encoding": {
 "x": {"field": "e", "type": "quantitative", "scale": {"domain": [-5, 20], "reverse": true, "nice": false, "zero": false}, "axis": null},
 "x2": {"field": "e2"},
 "y": {"field": "v", "type": "quantitative", "scale": {"domain": [-6, 505], "nice": false, "zero": false}, "axis": null},
 "y2": {"field": "v2"}
}
}
]
}
